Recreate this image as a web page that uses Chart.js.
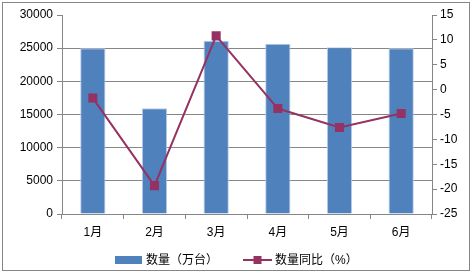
<!DOCTYPE html>
<html>
<head>
<meta charset="utf-8">
<script src="https://cdn.jsdelivr.net/npm/chart.js@4/dist/chart.umd.min.js"></script>
<style>
  html, body { margin: 0; padding: 0; background: #fff; }
  #wrap { width: 476px; height: 275px; }
</style>
</head>
<body>
<div id="wrap"><canvas id="mixChart" width="476" height="275"></canvas></div>
<script>
var months = ['1月', '2月', '3月', '4月', '5月', '6月'];
var amount = [25000, 15950, 26100, 25650, 25150, 25000];
var yoy = [-1.7, -19.3, 10.8, -3.8, -7.6, -4.8];
var leftTicks = [0, 5000, 10000, 15000, 20000, 25000, 30000];
var rightTicks = [-25, -20, -15, -10, -5, 0, 5, 10, 15];
var barLabel = '数量（万台）';
var lineLabel = '数量同比（%）';

var barColor = '#4F81BD';
var lineColor = '#953264';
var axisGray = '#868686';
var fontFam = '"Liberation Sans", "Noto Sans CJK SC", sans-serif';

// legend + outer frame drawn by hand so swatches look like the original
var frameLegend = {
    id: 'frameLegend',
    afterDraw: function (chart) {
        var c = chart.ctx;
        c.save();
        c.strokeStyle = axisGray;
        c.lineWidth = 1;
        c.strokeRect(2.5, 2.5, 467, 268);

        c.font = '12px ' + fontFam;
        c.textBaseline = 'middle';
        var y = 260;
        // bar swatch
        c.fillStyle = barColor;
        c.fillRect(115, y - 4, 27, 8);
        c.fillStyle = '#000';
        c.fillText(barLabel, 146, y + 1);
        // line swatch
        c.strokeStyle = lineColor;
        c.lineWidth = 2;
        c.beginPath();
        c.moveTo(243, y);
        c.lineTo(272, y);
        c.stroke();
        c.fillStyle = lineColor;
        c.fillRect(253.5, y - 4, 8, 8);
        c.fillStyle = '#000';
        c.fillText(lineLabel, 275, y + 1);
        c.restore();
    }
};

var plainNum = function (v) { return String(v); };

var ctx = document.getElementById('mixChart').getContext('2d');
var myChart = new Chart(ctx, {
    type: 'bar',
    data: {
        labels: months,
        datasets: [{
            type: 'line',
            label: lineLabel,
            data: yoy,
            yAxisID: 'y1',
            borderColor: lineColor,
            backgroundColor: lineColor,
            borderWidth: 2,
            pointStyle: 'rect',
            pointRadius: 5,
            pointHoverRadius: 5,
            tension: 0,
            order: 1
        }, {
            type: 'bar',
            label: barLabel,
            data: amount,
            yAxisID: 'y',
            backgroundColor: barColor,
            borderColor: '#B9CDE5',
            borderWidth: 1,
            categoryPercentage: 1,
            barPercentage: 0.41,
            order: 2
        }]
    },
    options: {
        responsive: false,
        animation: false,
        devicePixelRatio: 1,
        layout: { padding: { top: 15, left: 0, right: 0, bottom: 0 } },
        plugins: {
            legend: { display: false },
            tooltip: { enabled: false }
        },
        scales: {
            x: {
                offset: true,
                grid: {
                    offset: true,
                    drawOnChartArea: false,
                    color: axisGray,
                    tickLength: 5
                },
                border: { color: axisGray },
                ticks: { color: '#000', font: { family: fontFam, size: 12 }, padding: 6 },
                afterFit: function (s) { s.height = 61; }
            },
            y: {
                position: 'left',
                min: 0,
                max: 30000,
                afterBuildTicks: function (s) { s.ticks = leftTicks.map(function (v) { return { value: v }; }); },
                grid: {
                    color: function (c) { return c.tick && c.tick.value === 30000 ? 'rgba(0,0,0,0)' : axisGray; },
                    tickColor: axisGray,
                    tickLength: 5
                },
                border: { color: axisGray },
                ticks: { color: '#000', font: { family: fontFam, size: 12 }, padding: 4, callback: plainNum },
                afterFit: function (s) { s.width = 62; }
            },
            y1: {
                position: 'right',
                min: -25,
                max: 15,
                afterBuildTicks: function (s) { s.ticks = rightTicks.map(function (v) { return { value: v }; }); },
                grid: {
                    drawOnChartArea: false,
                    color: axisGray,
                    tickLength: 5
                },
                border: { color: axisGray },
                ticks: { color: '#000', font: { family: fontFam, size: 12 }, padding: 3, callback: plainNum },
                afterFit: function (s) { s.width = 44; }
            }
        }
    },
    plugins: [frameLegend]
});
</script>
</body>
</html>
